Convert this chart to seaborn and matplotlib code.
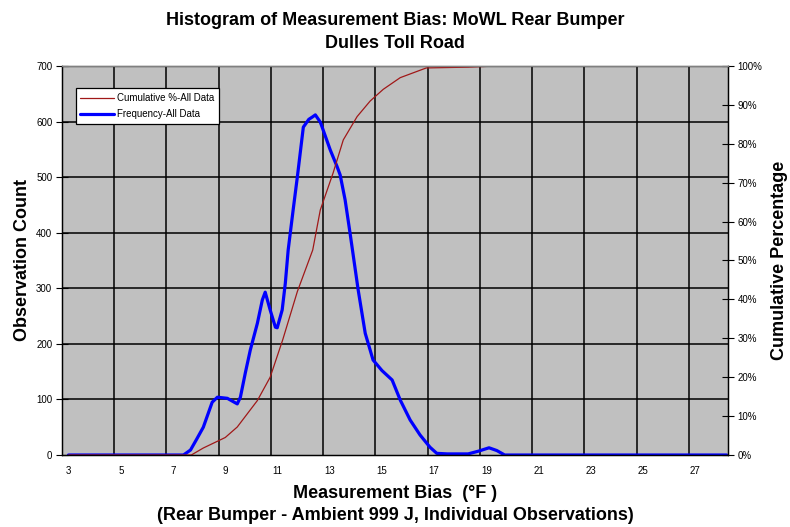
import numpy as np
import pandas as pd
import matplotlib
matplotlib.use('Agg')
import matplotlib.pyplot as plt
import seaborn as sns
from matplotlib.ticker import FixedLocator, FuncFormatter

# Frequency curve (observation count vs bias, deg F)
bias_freq = [3.0, 7.4, 7.67, 7.9, 8.16, 8.5, 8.7, 9.08, 9.46, 9.58, 9.77, 9.96,
             10.23, 10.42, 10.53, 10.72, 10.92, 10.99, 11.18, 11.30, 11.41, 11.6,
             11.76, 11.99, 12.2, 12.33, 12.45, 12.64, 12.71, 13.02, 13.29, 13.40,
             13.59, 13.78, 14.09, 14.36, 14.66, 15.0, 15.39, 15.70, 16.08, 16.46,
             16.84, 17.1, 17.5, 18.3, 18.7, 19.1, 19.4, 19.7, 28.2]
freq_counts = [0, 0, 9, 28, 50, 95, 104, 102, 92, 104, 148, 189,
               237, 279, 293, 261, 230, 229, 261, 309, 369, 441,
               500, 590, 604, 608, 612, 599, 590, 549, 518, 504,
               459, 399, 297, 219, 171, 152, 135, 99, 63, 36,
               14, 3, 2, 2, 7, 13, 8, 0, 0]

# Cumulative percentage curve
bias_cum = [3.0, 7.7, 8.16, 9.0, 9.46, 10.23, 10.72, 11.2, 11.76, 12.35, 12.64,
            13.13, 13.52, 14.05, 14.55, 15.05, 15.7, 16.1, 16.7, 18.3, 19.4, 28.2]
cum_pct = [0, 0, 1.8, 4.5, 7.2, 14, 20, 29.6, 42, 52.7, 63,
           72.5, 81, 87, 91, 94, 97, 98, 99.5, 99.7, 100, 100]

x_labels = [3, 5, 7, 9, 11, 13, 15, 17, 19, 21, 23, 25, 27]

freq_df = pd.DataFrame({'bias': bias_freq, 'count': freq_counts})
cum_df = pd.DataFrame({'bias': bias_cum, 'pct': cum_pct})

sns.set_style('white')
plt.rcParams['font.family'] = ['Liberation Sans', 'DejaVu Sans']
plt.rcParams['text.color'] = 'black'
plt.rcParams['axes.labelcolor'] = 'black'
plt.rcParams['xtick.color'] = 'black'
plt.rcParams['ytick.color'] = 'black'

fig = plt.figure(figsize=(7.9, 5.27), dpi=100)
ax = fig.add_axes([0.0785, 0.1366, 0.843, 0.7382])
ax.set_facecolor('#c0c0c0')
ax2 = ax.twinx()

sns.lineplot(data=freq_df, x='bias', y='count', ax=ax, color='#0000ff',
             linewidth=2.3, label='Frequency-All Data', legend=False)
sns.lineplot(data=cum_df, x='bias', y='pct', ax=ax2, color='#a01818',
             linewidth=0.9, label='Cumulative %-All Data', legend=False)

ax.set_xlim(2.75, 28.25)
ax.set_ylim(0, 700)
ax2.set_ylim(0, 100)

# gridlines sit between category labels
grid_x = [4.75 + 2 * i for i in range(12)]
ax.xaxis.set_major_locator(FixedLocator(x_labels))
ax.xaxis.set_minor_locator(FixedLocator([2.75] + grid_x))
ax.set_xticklabels([str(v) for v in x_labels])
ax.tick_params(axis='x', which='major', length=0, labelsize=7, pad=8)
ax.tick_params(axis='x', which='minor', length=4, width=0.8, direction='out', color='black')
for gx in grid_x:
    ax.axvline(gx, color='black', linewidth=1.1, zorder=0.5)

ax.set_yticks(range(0, 701, 100))
ax.tick_params(axis='y', labelsize=7, length=8, width=0.8, direction='inout', color='black', pad=3)
for gy in range(100, 700, 100):
    ax.axhline(gy, color='black', linewidth=1.1, zorder=0.5)

ax2.set_yticks(range(0, 101, 10))
ax2.yaxis.set_major_formatter(FuncFormatter(lambda v, p: f'{int(v)}%'))
ax2.tick_params(axis='y', labelsize=7, length=8, width=0.8, direction='inout', color='black', pad=3)

for a in (ax, ax2):
    for s in a.spines.values():
        s.set_color('black')
        s.set_linewidth(0.9)
ax2.spines['top'].set_color('#808080')

ax.set_xlabel('')
ax.set_ylabel('')
ax2.set_ylabel('')
fig.text(0.028, 0.506, 'Observation Count', rotation=90,
         ha='center', va='center', fontsize=13, fontweight='bold')
fig.text(0.987, 0.506, 'Cumulative Percentage', rotation=90,
         ha='center', va='center', fontsize=13, fontweight='bold')

fig.text(0.5, 0.962, 'Histogram of Measurement Bias: MoWL Rear Bumper',
         ha='center', va='center', fontsize=13, fontweight='bold')
fig.text(0.5, 0.918, 'Dulles Toll Road',
         ha='center', va='center', fontsize=13, fontweight='bold')
fig.text(0.5, 0.0645, 'Measurement Bias  (\u00b0F )',
         ha='center', va='center', fontsize=13, fontweight='bold')
fig.text(0.5, 0.021, '(Rear Bumper - Ambient 999 J, Individual Observations)',
         ha='center', va='center', fontsize=13, fontweight='bold')

h1, l1 = ax2.get_legend_handles_labels()
h2, l2 = ax.get_legend_handles_labels()
leg = ax2.legend(h1 + h2, l1 + l2, loc='upper left', bbox_to_anchor=(0.013, 0.955),
                 fontsize=7, frameon=True, fancybox=False, framealpha=1,
                 edgecolor='black', handlelength=3.5, borderpad=0.5,
                 labelspacing=0.6, handletextpad=0.3)
leg.get_frame().set_linewidth(0.9)

fig.savefig('out.png', dpi=100, facecolor='white')
